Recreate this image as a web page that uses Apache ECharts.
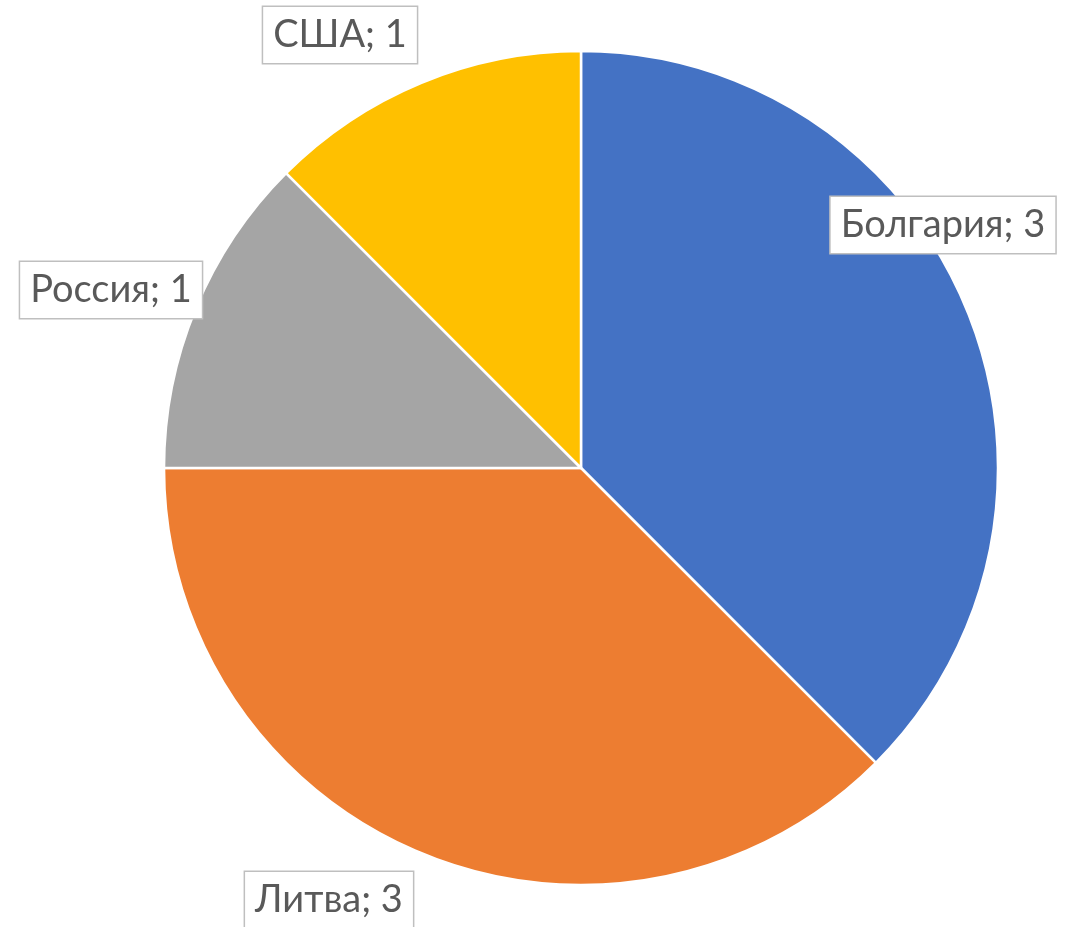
<!DOCTYPE html>
<html>
<head>
<meta charset="utf-8">
<script src="https://cdn.jsdelivr.net/npm/echarts@6/dist/echarts.min.js"></script>
<style>
  html, body { margin: 0; padding: 0; background: #fff; }
  #chart { width: 1079px; height: 927px; }
</style>
</head>
<body>
<div id="chart"></div>
<script>
// данные
var countries = ["Болгария", "Литва", "Россия", "США"];
var counts = [3, 3, 1, 1];
var colors = ["#4472C4", "#ED7D31", "#A5A5A5", "#FFC000"];

// label box centers (layout only)
var labelPos = [[943, 225], [329, 900], [111, 290], [340, 35]];

var myChart = echarts.init(document.getElementById("chart"));
var option = {
  animation: false,
  series: [
    {
      type: "pie",
      center: [581, 468],
      radius: [0, 417],
      startAngle: 90,
      clockwise: true,
      data: countries.map(function(name, i) {
        return { name: name, value: counts[i], itemStyle: { color: colors[i] } };
      }),
      itemStyle: {
        borderColor: "#ffffff",
        borderWidth: 2.5
      },
      label: {
        show: true,
        position: "inside",
        formatter: "{b}; {c}",
        fontFamily: "Lato",
        fontSize: 38,
        color: "#595959",
        backgroundColor: "#ffffff",
        borderColor: "#bfbfbf",
        borderWidth: 1.5,
        padding: [9, 10, 9, 10]
      },
      labelLine: { show: false },
      labelLayout: function(params) {
        var p = labelPos[params.dataIndex];
        return { x: p[0], y: p[1], align: "center", verticalAlign: "middle" };
      },
      emphasis: { disabled: true }
    }
  ]
};
myChart.setOption(option);
</script>
</body>
</html>
